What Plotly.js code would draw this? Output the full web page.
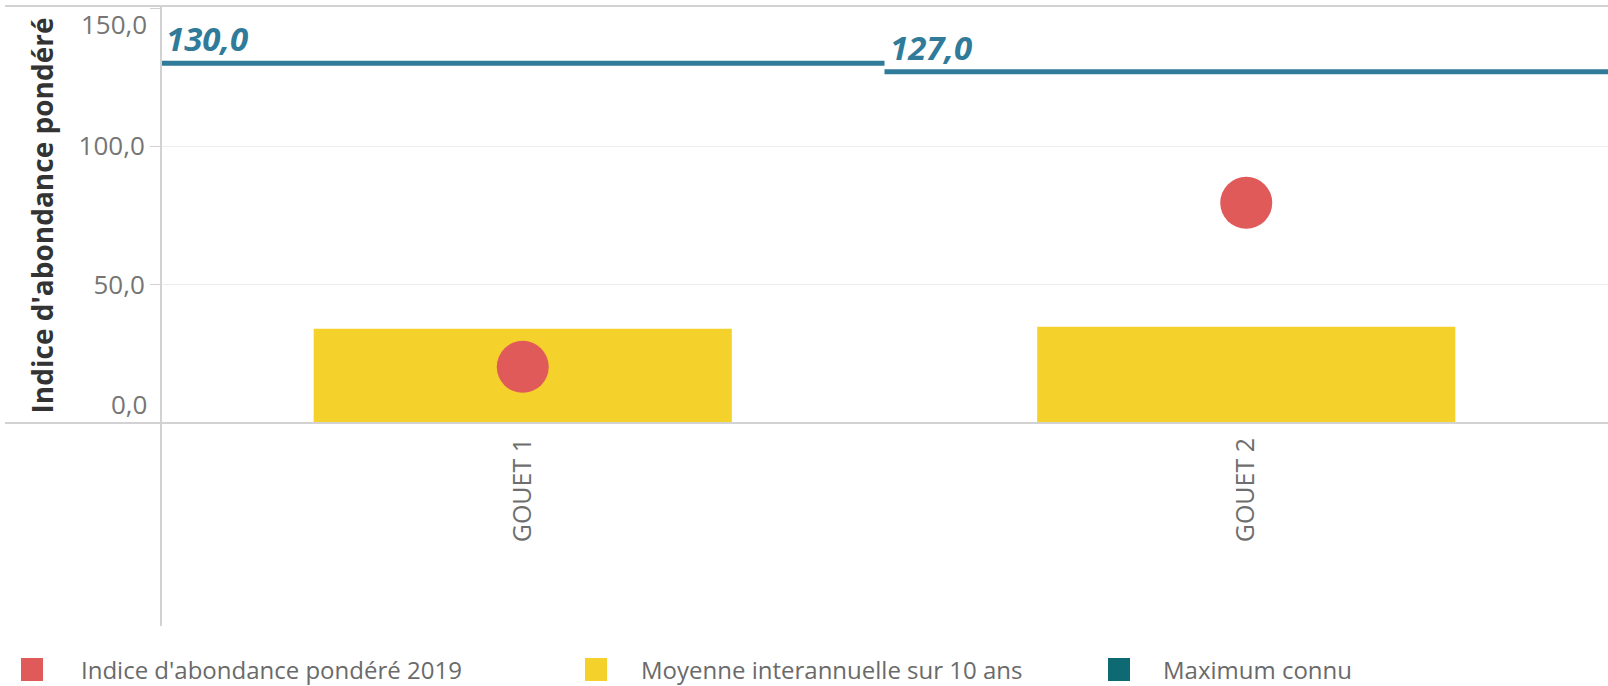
<!DOCTYPE html>
<html>
<head>
<meta charset="utf-8">
<script src="https://cdn.plot.ly/plotly-3.0.1.min.js"></script>
<style>
  html, body { margin: 0; padding: 0; background: #fff; }
  #chart { width: 1608px; height: 686px; }
</style>
</head>
<body>
<div id="chart"></div>
<script>
// ---- data ----
const categories = ['GOUET 1', 'GOUET 2'];
const indice2019 = [20.3, 79.6];     // Indice d'abondance pondéré 2019
const moyenne10 = [34.1, 34.8];      // Moyenne interannuelle sur 10 ans
const maximumConnu = [130.0, 127.0]; // Maximum connu
const yTicks = [0, 50, 100, 150];
const seriesNames = ["Indice d'abondance pondéré 2019", 'Moyenne interannuelle sur 10 ans', 'Maximum connu'];

// ---- styles ----
const RED = '#e15a5a';
const YELLOW = '#f5d22b';
const LINE_BLUE = '#2f7b99';
const TEAL = '#0d6a73';
const GRID = '#ececec';
const AXIS = '#d2d2d2';
const TICK_COLOR = '#757575';
const FONT = 'Open Sans, sans-serif';

// page geometry helpers (layout only)
const W = 1608, H = 686, ML = 161, MR = 0, MT = 8, MB = 263;
const PW = W - ML - MR, PH = H - MT - MB;
const px2x = p => (p - ML) / PW;
const px2y = p => (H - MB - p) / PH;

const idx = categories.map((_, i) => i);
const fmt = v => v.toFixed(1).replace('.', ',');

// max lines: one segment across each category slot
const maxX = [], maxY = [];
idx.forEach(i => { maxX.push(i - 0.5, i + 0.5, null); maxY.push(maximumConnu[i], maximumConnu[i], null); });

const traces = [
  { type: 'bar', x: idx, y: moyenne10, width: 0.578, marker: { color: YELLOW }, name: seriesNames[1], hoverinfo: 'y' },
  { type: 'scatter', mode: 'lines', x: maxX, y: maxY, line: { color: LINE_BLUE, width: 5 }, name: seriesNames[2], hoverinfo: 'y' },
  { type: 'scatter', mode: 'markers', x: idx, y: indice2019, marker: { color: RED, size: 52 }, name: seriesNames[0], hoverinfo: 'y' }
];

const annotations = [];
// max value labels
idx.forEach(i => annotations.push({
  x: i - 0.5, y: maximumConnu[i], xref: 'x', yref: 'y', text: fmt(maximumConnu[i]),
  showarrow: false, xanchor: 'left', yanchor: 'bottom', xshift: 3, yshift: 0,
  font: { family: FONT, size: 33, color: LINE_BLUE, weight: 'bold', style: 'italic' }
}));
// extreme y tick labels (drawn shifted inward, as in the reference)
annotations.push({ x: 0, xref: 'paper', xanchor: 'right', xshift: -12, y: yTicks[yTicks.length - 1], yref: 'y', yanchor: 'top', yshift: 4,
  text: fmt(yTicks[yTicks.length - 1]), showarrow: false, font: { family: FONT, size: 26, color: TICK_COLOR } });
annotations.push({ x: 0, xref: 'paper', xanchor: 'right', xshift: -12, y: yTicks[0], yref: 'y', yanchor: 'bottom', yshift: -1,
  text: fmt(yTicks[0]), showarrow: false, font: { family: FONT, size: 26, color: TICK_COLOR } });

// legend (manual, squares + labels)
const legendColors = [RED, YELLOW, TEAL];
const legendSquareX = [21, 585, 1108];
const legendTextX = [79, 639, 1161];
const shapes = [
  // top frame line
  { type: 'line', xref: 'paper', yref: 'paper', x0: px2x(5), x1: 1, y0: px2y(6), y1: px2y(6), line: { color: AXIS, width: 2 } },
  // long zero line
  { type: 'line', xref: 'paper', yref: 'paper', x0: px2x(5), x1: 1, y0: 0, y1: 0, line: { color: AXIS, width: 2 } },
  // long left vertical line
  { type: 'line', xref: 'paper', yref: 'paper', x0: 0, x1: 0, y0: px2y(626), y1: px2y(6), line: { color: AXIS, width: 2 } }
];
legendColors.forEach((c, k) => {
  shapes.push({ type: 'rect', xref: 'paper', yref: 'paper', x0: px2x(legendSquareX[k]), x1: px2x(legendSquareX[k] + 22),
    y0: px2y(681), y1: px2y(658), fillcolor: c, line: { width: 0 } });
  annotations.push({ xref: 'paper', yref: 'paper', x: px2x(legendTextX[k]), y: px2y(669), xanchor: 'left', yanchor: 'middle',
    text: seriesNames[k], showarrow: false, font: { family: FONT, size: 24, color: '#6a6a6a' } });
});

const layout = {
  width: W, height: H,
  margin: { l: ML, r: MR, t: MT, b: MB, pad: 0 },
  paper_bgcolor: '#ffffff', plot_bgcolor: '#ffffff',
  separators: ', ',
  showlegend: false,
  font: { family: FONT, color: TICK_COLOR },
  xaxis: {
    range: [-0.5, idx.length - 0.5], tickvals: idx, ticktext: categories,
    tickangle: -90, ticks: '', showgrid: false, zeroline: false, showline: false,
    ticklabelstandoff: 9, automargin: false,
    tickfont: { family: FONT, size: 25, color: '#6e6e6e' }
  },
  yaxis: {
    range: [yTicks[0], yTicks[yTicks.length - 1]], tickvals: yTicks,
    ticktext: yTicks.map((v, k) => (k === 0 || k === yTicks.length - 1) ? '' : fmt(v)),
    ticks: 'outside', ticklen: 10, tickcolor: AXIS, tickwidth: 1,
    showgrid: true, gridcolor: GRID, gridwidth: 1, zeroline: false, showline: false,
    automargin: false,
    tickfont: { family: FONT, size: 26, color: TICK_COLOR },
    title: { text: "Indice d'abondance pondéré", standoff: 16,
      font: { family: FONT, size: 28, color: '#333333', weight: 'bold' } }
  },
  shapes: shapes,
  annotations: annotations
};

Plotly.newPlot('chart', traces, layout, { displayModeBar: false, staticPlot: true });
</script>
</body>
</html>
